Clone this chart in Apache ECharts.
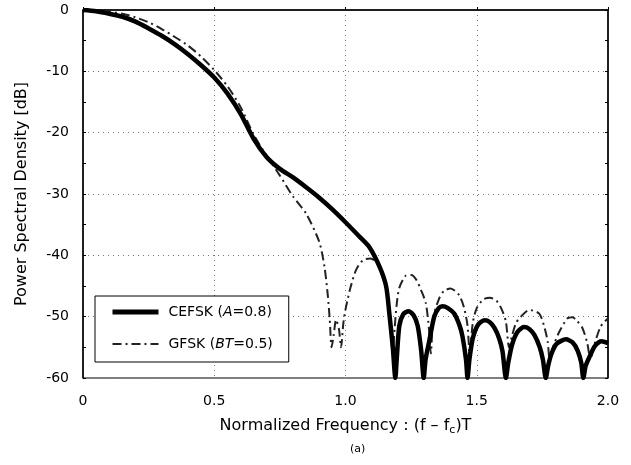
<!DOCTYPE html>
<html>
<head>
<meta charset="utf-8">
<script src="https://cdn.jsdelivr.net/npm/echarts@6/dist/echarts.min.js"></script>
<style>html,body{margin:0;padding:0;background:#fff}#c{width:631px;height:465px}</style>
</head>
<body>
<div id="c"></div>
<script>
// ---- data ----
const seriesNames = ['CEFSK', 'GFSK'];
const legendLabels = ['CEFSK ({i|A}=0.8)', 'GFSK ({i|BT}=0.5)'];
const xTicks = [0, 0.5, 1.0, 1.5, 2.0];
const yTicks = [0, -10, -20, -30, -40, -50, -60];

const cefskX = [0, 0.05, 0.1, 0.15, 0.2, 0.25, 0.3, 0.35, 0.4, 0.45, 0.5, 0.55, 0.6, 0.65, 0.7, 0.75, 0.8, 0.85, 0.9, 0.95, 1.0, 1.05, 1.09, 1.13, 1.155, 1.167, 1.18, 1.19,
  1.195, 1.205, 1.22, 1.24, 1.26, 1.275, 1.288, 1.298,
  1.305, 1.319, 1.338, 1.355, 1.37, 1.39, 1.414, 1.435, 1.446, 1.459, 1.465,
  1.472, 1.485, 1.505, 1.53, 1.55, 1.567, 1.585, 1.598, 1.611,
  1.62, 1.635, 1.655, 1.68, 1.70, 1.72, 1.74, 1.752, 1.763,
  1.772, 1.785, 1.805, 1.84, 1.865, 1.885, 1.898, 1.906,
  1.915, 1.93, 1.95, 1.975, 2.0];
const cefskY = [0, -0.2, -0.6, -1.1, -1.9, -3.0, -4.2, -5.6, -7.2, -9.0, -11.0, -13.6, -16.9, -21.0, -24.0, -25.9, -27.3, -28.9, -30.6, -32.5, -34.6, -36.8, -38.6, -41.9, -45.1, -49.5, -54.9, -60,
  -57, -51.5, -49.6, -49.1, -49.8, -51.5, -55.4, -60,
  -57, -54.0, -50.0, -48.6, -48.3, -48.6, -49.5, -51.5, -53.3, -57.0, -60,
  -57, -53.5, -51.3, -50.6, -50.9, -51.8, -53.5, -55.6, -60,
  -57.5, -54.5, -52.5, -51.7, -52.0, -53.0, -55.0, -57.0, -60,
  -58, -56.0, -54.4, -53.7, -54.2, -55.6, -57.5, -60,
  -58, -56.5, -54.8, -54.0, -54.3];

const gfskX = [0, 0.05, 0.1, 0.15, 0.2, 0.25, 0.3, 0.35, 0.4, 0.45, 0.5, 0.55, 0.6, 0.65, 0.7, 0.75, 0.8, 0.85, 0.9, 0.92, 0.933, 0.94, 0.947,
  0.955, 0.964, 0.975, 0.983, 0.992, 1.002, 1.02, 1.04, 1.066, 1.095, 1.12, 1.14, 1.155, 1.168, 1.18,
  1.187, 1.195, 1.205, 1.23, 1.25, 1.27, 1.288, 1.306, 1.318, 1.325,
  1.335, 1.357, 1.375, 1.40, 1.433, 1.452, 1.465, 1.473,
  1.485, 1.5, 1.525, 1.55, 1.575, 1.595, 1.611, 1.623,
  1.635, 1.65, 1.668, 1.70, 1.738, 1.757, 1.77, 1.778,
  1.79, 1.814, 1.845, 1.865, 1.88, 1.902, 1.921, 1.933,
  1.945, 1.972, 2.0];
const gfskY = [0, -0.1, -0.3, -0.6, -1.2, -2.0, -3.1, -4.4, -5.8, -7.6, -9.8, -12.4, -15.8, -20.3, -23.8, -27.0, -30.4, -33.2, -37.8, -41.9, -46.7, -50.5, -55,
  -53, -50.5, -52, -55, -51, -48.4, -45.1, -42.4, -40.8, -40.5, -41.2, -43.0, -45.5, -50, -56,
  -52, -48.0, -45.3, -43.3, -43.2, -44.0, -45.7, -47.8, -52, -56,
  -50, -47.0, -45.8, -45.4, -46.5, -48.6, -51.5, -56,
  -51, -48.6, -47.2, -46.9, -47.4, -48.8, -50.8, -55,
  -53, -51, -50.0, -48.9, -49.5, -51.6, -54, -57,
  -55, -52.5, -50.3, -50.1, -50.6, -51.8, -54.3, -57,
  -55, -51.6, -50.3];

const FONT = '"DejaVu Sans", Verdana, sans-serif';
const pairs = (xs, ys) => xs.map((x, i) => [x, ys[i]]);
const cefskStyle = {color: '#000', width: 4.5};
const gfskStyle = {color: '#222', width: 2, type: [9, 4, 2, 4]};

const chart = echarts.init(document.getElementById('c'), null, {renderer: 'canvas'});
chart.setOption({
  animation: false,
  backgroundColor: '#fff',
  title: {
    text: '(a)', left: 345, top: 439,
    textStyle: {fontSize: 11, fontWeight: 'normal', color: '#000', fontFamily: FONT}
  },
  grid: {left: 83, right: 23, top: 10, bottom: 87, show: true, borderColor: '#000', borderWidth: 1},
  legend: {
    orient: 'vertical', left: 95, top: 296,
    data: [
      {name: seriesNames[0], lineStyle: {color: '#000', width: 5}},
      {name: seriesNames[1], lineStyle: {color: '#222', width: 2, type: [9, 4, 2, 4]}}
    ],
    itemWidth: 46, itemHeight: 14, itemGap: 18,
    padding: [9, 16, 11, 15],
    backgroundColor: '#fff', borderColor: '#000', borderWidth: 1, borderRadius: 0,
    itemStyle: {opacity: 0, borderWidth: 0},
    formatter: name => legendLabels[seriesNames.indexOf(name)],
    textStyle: {
      fontSize: 14, color: '#000', fontFamily: FONT, padding: [0, 0, 0, 5],
      rich: {i: {fontStyle: 'italic', fontSize: 14, color: '#000', fontFamily: FONT}}
    }
  },
  xAxis: [{
    type: 'value', min: 0, max: 2, interval: 0.5,
    name: 'Normalized Frequency : (f – f{sub|c})T',
    nameLocation: 'middle', nameGap: 38,
    nameTextStyle: {fontSize: 16, color: '#000', fontFamily: FONT,
      rich: {sub: {fontSize: 11, color: '#000', fontFamily: FONT, padding: [9, 0, 0, 0]}}},
    axisLine: {show: true, lineStyle: {color: '#000', width: 1.5}},
    axisTick: {show: true, inside: true, length: 3, lineStyle: {color: '#000'}},
    axisLabel: {fontSize: 14, color: '#000', fontFamily: FONT, margin: 16,
      formatter: v => xTicks.includes(v) ? (v === 0 ? '0' : v.toFixed(1)) : ''},
    splitLine: {show: true, lineStyle: {color: '#777', type: [1, 4], width: 1}}
  }],
  yAxis: [{
    type: 'value', min: -60, max: 0, interval: 10,
    name: 'Power Spectral Density [dB]',
    nameLocation: 'middle', nameGap: 53,
    nameTextStyle: {fontSize: 16, color: '#000', fontFamily: FONT},
    axisLine: {show: true, lineStyle: {color: '#000', width: 1.5}},
    axisTick: {show: true, inside: true, length: 3, lineStyle: {color: '#000'}},
    minorTick: {show: true, splitNumber: 2, length: 3, lineStyle: {color: '#000'}},
    axisLabel: {fontSize: 14, color: '#000', fontFamily: FONT, margin: 14,
      formatter: v => yTicks.includes(v) ? String(v) : ''},
    splitLine: {show: true, lineStyle: {color: '#777', type: [1, 4], width: 1}}
  }, {
    type: 'value', min: -60, max: 0, interval: 5, position: 'right',
    axisLine: {show: true, lineStyle: {color: '#000', width: 1.5}},
    axisTick: {show: true, inside: true, length: 3, lineStyle: {color: '#000'}},
    axisLabel: {show: false}, splitLine: {show: false}
  }],
  series: [{
    name: seriesNames[0], type: 'line', data: pairs(cefskX, cefskY),
    showSymbol: false, symbol: 'none', smooth: 0.25, clip: true, z: 3,
    lineStyle: cefskStyle, itemStyle: {color: '#000'}
  }, {
    name: seriesNames[1], type: 'line', data: pairs(gfskX, gfskY),
    showSymbol: false, symbol: 'none', smooth: 0.25, clip: true, z: 2,
    lineStyle: gfskStyle, itemStyle: {color: '#222'}
  }]
});
</script>
</body>
</html>
